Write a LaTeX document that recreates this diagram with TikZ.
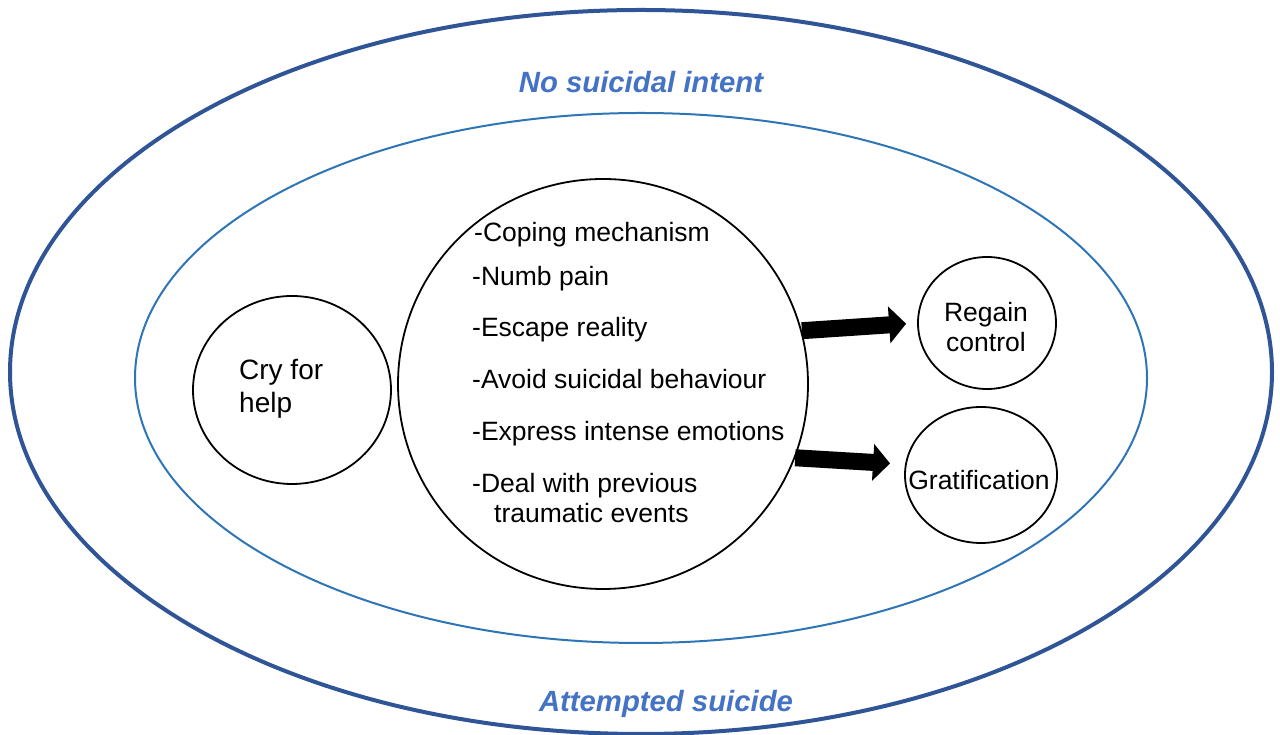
\documentclass[tikz,border=0pt]{standalone}
\usepackage{fontspec}
\setmainfont{Liberation Sans}
\usetikzlibrary{arrows.meta, shapes.geometric}
\definecolor{outerblue}{HTML}{2F5597}
\definecolor{innerblue}{HTML}{2E75B6}
\definecolor{labelblue}{HTML}{4472C4}

\begin{document}
\begin{tikzpicture}[x=1pt, y=1pt,
  bubble/.style={ellipse, draw, line width=1.8pt, inner sep=0pt},
  words/.style={anchor=base, inner sep=0pt, align=center, font=\fontsize{26.5}{30.5}\selectfont},
  item/.style={anchor=base west, inner sep=0pt, font=\fontsize{26.5}{31}\selectfont},
  zone/.style={anchor=base, inner sep=0pt, text=labelblue, font=\fontsize{29.3}{34}\selectfont\bfseries\itshape},
  fat/.style={line width=17pt, -{Triangle[length=17pt, width=36pt]}}]
  \useasboundingbox (0,0) rectangle (1280,735);

  % the two zones
  \node[ellipse, draw=outerblue, line width=4pt, minimum width=1262pt, minimum height=724pt] (attempt) at (641,363) {};
  \node[ellipse, draw=innerblue, line width=2pt, minimum width=1012pt, minimum height=530pt] (nointent) at (641,357) {};
  \node[zone] (nointentlabel) at (641,642) {No suicidal intent};
  \node[zone] (attemptlabel) at (666,23) {Attempted suicide};

  % circles
  \node[bubble, minimum width=198pt, minimum height=188pt] (cry) at (292,345) {};
  \node[bubble, minimum width=410pt, minimum height=410pt] (coping) at (603,351) {};
  \node[bubble, minimum width=138pt, minimum height=132pt] (regain) at (987,412) {};
  \node[bubble, minimum width=152pt, minimum height=136pt] (grat) at (981,260) {};

  % base of a two-line text is its last line
  \node[words, anchor=base west, align=left, font=\fontsize{28}{33}\selectfont] (crytext) at (239,322) {Cry for\\help};
  \node[words] (regaintext) at (986,383) {Regain\\control};
  \node[words] (grattext) at (979,245) {Gratification};

  % reasons
  \node[item] (r1) at (474,493) {-Coping mechanism};
  \node[item] (r2) at (472,449) {-Numb pain};
  \node[item] (r3) at (472,398) {-Escape reality};
  \node[item] (r4) at (472,346) {-Avoid suicidal behaviour};
  \node[item] (r5) at (472,294) {-Express intense emotions};
  \node[item] (r6) at (472,242) {-Deal with previous};
  \node[item] (r7) at (494,212) {traumatic events};

  \draw[fat, shorten >=11pt] (coping.15) -- (regain.west);
  \draw[fat, shorten >=15pt] (coping.-21) -- (grat.172);
\end{tikzpicture}
\end{document}
